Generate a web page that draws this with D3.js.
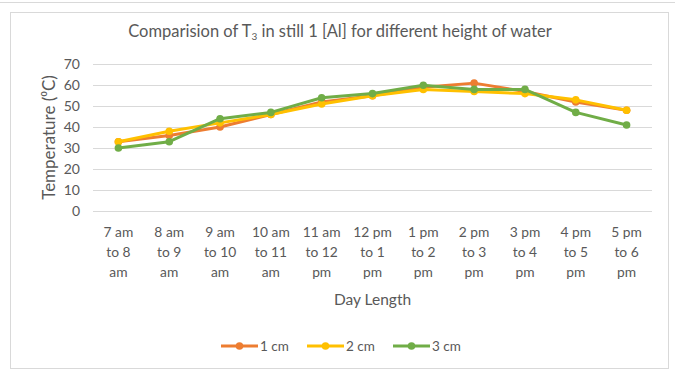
<!DOCTYPE html>
<html><head><meta charset="utf-8">
<script src="https://cdn.jsdelivr.net/npm/d3@7"></script>
<style>
body{margin:0;background:#fff;}
svg{display:block;font-family:Lato, "Open Sans", sans-serif;}
</style></head>
<body><svg id="c" width="675" height="371"></svg>
<script>
const categories = [
  ["7 am","to 8","am"],["8 am","to 9","am"],["9 am","to 10","am"],["10 am","to 11","am"],
  ["11 am","to 12","pm"],["12 pm","to 1","pm"],["1 pm","to 2","pm"],["2 pm","to 3","pm"],
  ["3 pm","to 4","pm"],["4 pm","to 5","pm"],["5 pm","to 6","pm"]
];
const series1cm = [33, 36, 40, 46, 52, 55, 59, 61, 57, 52, 48];
const series2cm = [33, 38, 42, 46, 51, 55, 58, 57, 56, 53, 48];
const series3cm = [30, 33, 44, 47, 54, 56, 60, 58, 58, 47, 41];
const seriesNames = ["1 cm", "2 cm", "3 cm"];
const yTicks = [0, 10, 20, 30, 40, 50, 60, 70];

const colors = ["#ED7D31", "#FFC000", "#70AD47"];
const allSeries = [series1cm, series2cm, series3cm];

const svg = d3.select("#c");
svg.append("line").attr("x1",0).attr("x2",675).attr("y1",2.5).attr("y2",2.5).attr("stroke","#d9d9d9");
svg.append("rect").attr("x",10.5).attr("y",12.5).attr("width",658).attr("height",356)
  .attr("fill","none").attr("stroke","#d9d9d9");

const pL = 93, pR = 652, pT = 64.3, pB = 210.7;
const x = d3.scaleBand().domain(d3.range(categories.length)).range([pL, pR]);
const y = d3.scaleLinear().domain([0, 70]).range([pB, pT]);

svg.append("g").selectAll("line").data(yTicks).join("line")
  .attr("x1", pL).attr("x2", pR)
  .attr("y1", d => Math.round(y(d)) + 0.5).attr("y2", d => Math.round(y(d)) + 0.5)
  .attr("stroke", "#d9d9d9").attr("stroke-width", 1);

const yAxis = d3.axisLeft(y).tickValues(yTicks).tickSize(0).tickPadding(0);
const yg = svg.append("g").attr("transform", `translate(${pL - 13},0)`).call(yAxis);
yg.select(".domain").remove();
yg.selectAll("text").attr("fill", "#595959").style("font-size", "14px").style("font-family","Lato, sans-serif");

const xg = svg.append("g");
categories.forEach((c, i) => {
  const t = xg.append("text").attr("text-anchor", "middle").attr("fill", "#595959")
    .style("font-size", "13.8px");
  c.forEach((ln, j) => {
    t.append("tspan").attr("x", x(i) + x.bandwidth() / 2).attr("y", 236.5 + j * 20).text(ln);
  });
});

svg.append("text").attr("x", (pL + pR) / 2).attr("y", 305).attr("text-anchor", "middle")
  .attr("fill", "#595959").style("font-size", "15.5px").text("Day Length");
svg.append("text").attr("transform", `translate(55,${(pT + pB) / 2}) rotate(-90)`)
  .attr("text-anchor", "middle").attr("fill", "#595959").style("font-size", "17px")
  .text("Temperature (⁰C)");

const title = svg.append("text").attr("x", 340).attr("y", 37).attr("text-anchor", "middle")
  .attr("fill", "#595959").style("font-size", "16.5px");
title.append("tspan").text("Comparision of T");
title.append("tspan").attr("baseline-shift", "-3px").style("font-size", "10px").text("3");
title.append("tspan").attr("baseline-shift", "0").text(" in still 1 [Al] for different height of water");

const line = d3.line().x((d, i) => x(i) + x.bandwidth() / 2).y(d => y(d));
allSeries.forEach((s, k) => {
  svg.append("path").datum(s).attr("d", line).attr("fill", "none")
    .attr("stroke", colors[k]).attr("stroke-width", 3).attr("stroke-linejoin", "round");
  svg.append("g").selectAll("circle").data(s).join("circle")
    .attr("cx", (d, i) => x(i) + x.bandwidth() / 2).attr("cy", d => y(d))
    .attr("r", 3.8).attr("fill", colors[k]);
});

const legX = [221, 307, 393];
seriesNames.forEach((n, k) => {
  const g = svg.append("g").attr("transform", `translate(${legX[k]},346)`);
  g.append("line").attr("x1", 0).attr("x2", 37).attr("y1", 0).attr("y2", 0)
    .attr("stroke", colors[k]).attr("stroke-width", 3);
  g.append("circle").attr("cx", 18.5).attr("cy", 0).attr("r", 3.8).attr("fill", colors[k]);
  g.append("text").attr("x", 39).attr("y", 5).attr("fill", "#595959")
    .style("font-size", "13.5px").text(n);
});
</script></body></html>
